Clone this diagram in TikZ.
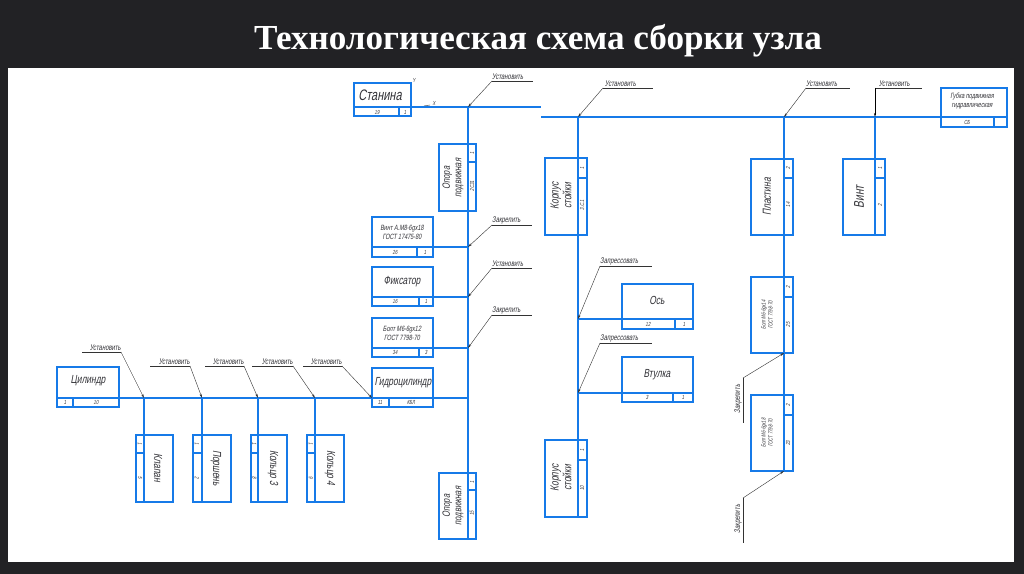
\documentclass[tikz,border=0pt]{standalone}
\usepackage{fontspec}
\setmainfont{Liberation Serif}
\newfontfamily\gost[FakeStretch=0.72,FakeSlant=0.18]{Liberation Sans}
\usetikzlibrary{arrows.meta}

\definecolor{slidebg}{RGB}{34,34,37}
\definecolor{cadblue}{RGB}{22,122,232}
\definecolor{txt}{RGB}{50,50,55}

\begin{document}
\begin{tikzpicture}
        [x=0.3mm, y=-0.3mm,
        part/.style={draw=cadblue, line width=0.9pt},
        link/.style={cadblue, line width=1pt},
        lead/.style={black!80, line width=0.35pt},
        ptr/.style={lead, -{Stealth[length=3.5pt,width=1.8pt]}},
        big/.style={font=\gost\fontsize{13}{14}\selectfont, text=txt, inner sep=0pt},
        pname/.style={font=\gost\fontsize{10}{11}\selectfont, text=txt, inner sep=0pt, align=center},
        small/.style={font=\gost\fontsize{6.5}{7.5}\selectfont, text=txt, inner sep=0pt, align=center},
        num/.style={font=\gost\fontsize{5}{5}\selectfont, text=txt, inner sep=0pt},
        op/.style={font=\gost\fontsize{7}{7}\selectfont, text=txt, inner sep=0pt, anchor=south west, yshift=0.8pt}]

        % slide and sheet
        \fill[slidebg] (0,0) rectangle (1024,574);
        \fill[white] (8,68) rectangle (1014,562);
        \node[font=\fontsize{30}{33}\selectfont\bfseries, text=white] (title) at (538,41) {Технологическая схема сборки узла};

        % base part
        \draw[part] (354,83) rectangle (411,116);
        \draw[part] (399,107) -- (399,116);
        \node[big] (stanina) at (380,95) {Станина};
        \node[num] (stn1) at (377,112) {19};
        \node[num] (stn2) at (405,112) {1};
        \node[num] (axy) at (414,80) {Y};
        \node[num] (axx) at (434,103) {X};
        \draw[lead] (424,106) -- (430,105);

        % main lines
        \coordinate (a0) at (354,107);
        \coordinate (a1) at (541,107);
        \coordinate (b0) at (541,117);
        \coordinate (b1) at (1007,117);
        \draw[link] (a0) -- (a1);
        \draw[link] (b0) -- (b1);
        \coordinate (ja) at (468,107);
        \coordinate (jb) at (578,117);
        \coordinate (jc) at (784,117);
        \coordinate (jd) at (875,117);
        \coordinate (ea) at (468,539);
        \coordinate (eb) at (578,517);
        \coordinate (ec) at (784,471);
        \coordinate (ed) at (875,235);
        \draw[link] (ja) -- (ea);
        \draw[link] (jb) -- (eb);
        \draw[link] (jc) -- (ec);
        \draw[link] (jd) -- (ed);

        % gubka
        \draw[part] (941,88) rectangle (1007,127);
        \draw[part] (994,117) -- (994,127);
        \node[small] (gubka) at (972,101) {Губка подвижная\\гидравлическая};
        \node[num] (gb1) at (967,122) {СБ};

        % column a
        \draw[part] (439,144) rectangle (476,211);
        \draw[part] (468,162) -- (476,162);
        \node[pname, rotate=90, font=\gost\fontsize{9}{10}\selectfont] (opora1) at (453,178) {Опора\\подвижная};
        \node[num, rotate=90] (op11) at (472,153) {1};
        \node[num, rotate=90] (op12) at (472,186) {2С31};
        \draw[part] (439,473) rectangle (476,539);
        \draw[part] (468,490) -- (476,490);
        \node[pname, rotate=90, font=\gost\fontsize{9}{10}\selectfont] (opora2) at (453,506) {Опора\\подвижная};
        \node[num, rotate=90] (op21) at (472,482) {1};
        \node[num, rotate=90] (op22) at (472,513) {15};

        \coordinate (ka) at (372,247);
        \coordinate (ja1) at (468,247);
        \draw[part] (372,217) rectangle (433,257);
        \draw[part] (417,247) -- (417,257);
        \draw[link] (ka) -- (ja1);
        \node[small] (vint1) at (402,232) {Винт А.М8-6gх18\\ГОСТ 17475-80};
        \node[num] (vi1) at (395,252) {26};
        \node[num] (vi2) at (425,252) {1};

        \coordinate (kb) at (372,297);
        \coordinate (ja2) at (468,297);
        \draw[part] (372,267) rectangle (433,306);
        \draw[part] (419,297) -- (419,306);
        \draw[link] (kb) -- (ja2);
        \node[pname] (fiks) at (402,282) {Фиксатор};
        \node[num] (fi1) at (395,301.5) {16};
        \node[num] (fi2) at (426,301.5) {1};

        \coordinate (kc) at (372,348);
        \coordinate (ja3) at (468,348);
        \draw[part] (372,318) rectangle (433,357);
        \draw[part] (419,348) -- (419,357);
        \draw[link] (kc) -- (ja3);
        \node[small] (bolt1) at (402,333) {Болт М6-6gх12\\ГОСТ 7798-70};
        \node[num] (bo1) at (395,352.5) {34};
        \node[num] (bo2) at (426,352.5) {3};

        % hydro cylinder and left line
        \coordinate (c0) at (57,398);
        \coordinate (c1) at (468,398);
        \draw[link] (c0) -- (c1);
        \draw[part] (372,368) rectangle (433,407);
        \draw[part] (389,398) -- (389,407);
        \node[pname] (gidro) at (403,383) {Гидроцилиндр};
        \node[num] (gi1) at (380,402.5) {11};
        \node[num] (gi2) at (411,402.5) {КБЛ};
        \draw[part] (57,367) rectangle (119,407);
        \draw[part] (73,398) -- (73,407);
        \node[pname] (cil) at (88,381) {Цилиндр};
        \node[num] (ci1) at (65,402.5) {1};
        \node[num] (ci2) at (96,402.5) {10};

        % parts under the left line
        \coordinate (jl1) at (144,398);
        \coordinate (jl2) at (202,398);
        \coordinate (jl3) at (258,398);
        \coordinate (jl4) at (315,398);
        \coordinate (jl5) at (372,398);
        \coordinate (el1) at (144,502);
        \coordinate (el2) at (202,502);
        \coordinate (el3) at (258,502);
        \coordinate (el4) at (315,502);
        \draw[link] (jl1) -- (el1);
        \draw[link] (jl2) -- (el2);
        \draw[link] (jl3) -- (el3);
        \draw[link] (jl4) -- (el4);

        \draw[part] (136,435) rectangle (173,502);
        \draw[part] (136,453) -- (144,453);
        \node[pname, rotate=-90] (klapan) at (158,468) {Клапан};
        \node[num, rotate=-90] (kl1) at (140,444) {1};
        \node[num, rotate=-90] (kl2) at (140,478) {5};

        \draw[part] (193,435) rectangle (231,502);
        \draw[part] (193,453) -- (202,453);
        \node[pname, rotate=-90] (porshen) at (216,468) {Поршень};
        \node[num, rotate=-90] (po1) at (197,444) {1};
        \node[num, rotate=-90] (po2) at (197,478) {2};

        \draw[part] (251,435) rectangle (287,502);
        \draw[part] (251,453) -- (258,453);
        \node[pname, rotate=-90] (kol3) at (273,468) {Кольцо 3};
        \node[num, rotate=-90] (k31) at (254.5,444) {1};
        \node[num, rotate=-90] (k32) at (254.5,478) {8};

        \draw[part] (307,435) rectangle (344,502);
        \draw[part] (307,453) -- (315,453);
        \node[pname, rotate=-90] (kol4) at (330,468) {Кольцо 4};
        \node[num, rotate=-90] (k41) at (311,444) {1};
        \node[num, rotate=-90] (k42) at (311,478) {9};

        % column b
        \draw[part] (545,158) rectangle (587,235);
        \draw[part] (578,178) -- (587,178);
        \node[pname, rotate=90] (korp1) at (561,196) {Корпус\\стойки};
        \node[num, rotate=90] (kp11) at (582,168) {1};
        \node[num, rotate=90] (kp12) at (582,205) {3.С.1};
        \draw[part] (545,440) rectangle (587,517);
        \draw[part] (578,460) -- (587,460);
        \node[pname, rotate=90] (korp2) at (561,478) {Корпус\\стойки};
        \node[num, rotate=90] (kp21) at (582,450) {1};
        \node[num, rotate=90] (kp22) at (582,488) {10};

        \coordinate (jb1) at (578,319);
        \coordinate (kd) at (693,319);
        \draw[part] (622,284) rectangle (693,329);
        \draw[part] (675,319) -- (675,329);
        \draw[link] (jb1) -- (kd);
        \node[pname] (os) at (657,300) {Ось};
        \node[num] (os1) at (648,324) {12};
        \node[num] (os2) at (684,324) {1};

        \coordinate (jb2) at (578,393);
        \coordinate (ke) at (693,393);
        \draw[part] (622,357) rectangle (693,402);
        \draw[part] (673,393) -- (673,402);
        \draw[link] (jb2) -- (ke);
        \node[pname] (vtulka) at (657,375) {Втулка};
        \node[num] (vt1) at (647,397.5) {3};
        \node[num] (vt2) at (683,397.5) {1};

        % column c
        \draw[part] (751,159) rectangle (793,235);
        \draw[part] (784,178) -- (793,178);
        \node[pname, rotate=90] (plast) at (767,197) {Пластина};
        \node[num, rotate=90] (pl1) at (788,168) {2};
        \node[num, rotate=90] (pl2) at (788,205) {14};
        \draw[part] (751,277) rectangle (793,353);
        \draw[part] (784,297) -- (793,297);
        \node[small, rotate=90, font=\gost\fontsize{5}{6}\selectfont] (bolt2) at (767,315) {Болт М6-6gх14\\ГОСТ 7798-70};
        \node[num, rotate=90] (b21) at (788,287) {2};
        \node[num, rotate=90] (b22) at (788,325) {25};
        \draw[part] (751,395) rectangle (793,471);
        \draw[part] (784,415) -- (793,415);
        \node[small, rotate=90, font=\gost\fontsize{5}{6}\selectfont] (bolt3) at (767,433) {Болт М6-6gх18\\ГОСТ 7798-70};
        \node[num, rotate=90] (b31) at (788,405) {2};
        \node[num, rotate=90] (b32) at (788,443) {23};

        % column d
        \draw[part] (843,159) rectangle (885,235);
        \draw[part] (875,178) -- (885,178);
        \node[pname, rotate=90, font=\gost\fontsize{12}{13}\selectfont] (vint2) at (859,197) {Винт};
        \node[num, rotate=90] (vn1) at (880,168) {1};
        \node[num, rotate=90] (vn2) at (880,205) {2};

        % operations, top
        \coordinate (u1) at (492,81);
        \coordinate (u2) at (603,88);
        \coordinate (u3) at (806,88);
        \coordinate (u4) at (875,88);
        \draw[lead] (u1) -- ++(41,0); \node[op] (t1) at (u1) {Установить};
        \draw[lead] (u2) -- ++(50,0); \node[op, xshift=1.5pt] (t2) at (u2) {Установить};
        \draw[lead] (u3) -- ++(44,0); \node[op] (t3) at (u3) {Установить};
        \draw[lead] (u4) -- ++(47,0); \node[op, xshift=3pt] (t4) at (u4) {Установить};
        \draw[ptr] (u1) -- (ja);
        \draw[ptr] (u2) -- (jb);
        \draw[ptr] (u3) -- (jc);
        \draw[ptr, black, line width=0.7pt] (u4) -- (jd);

        % operations, column a
        \coordinate (u5) at (492,225);
        \coordinate (u6) at (492,268);
        \coordinate (u7) at (492,315);
        \draw[lead] (u5) -- ++(40,0); \node[op] (t5) at (u5) {Закрепить};
        \draw[lead] (u6) -- ++(40,0); \node[op] (t6) at (u6) {Установить};
        \draw[lead] (u7) -- ++(40,0); \node[op] (t7) at (u7) {Закрепить};
        \draw[ptr] (u5) -- (ja1);
        \draw[ptr] (u6) -- (ja2);
        \draw[ptr] (u7) -- (ja3);

        % operations, column b
        \coordinate (u8) at (600,266);
        \coordinate (u9) at (600,343);
        \draw[lead] (u8) -- ++(52,0); \node[op] (t8) at (u8) {Запрессовать};
        \draw[lead] (u9) -- ++(52,0); \node[op] (t9) at (u9) {Запрессовать};
        \draw[ptr] (u8) -- (jb1);
        \draw[ptr] (u9) -- (jb2);

        % operations, column c
        \coordinate (u10) at (743,378);
        \coordinate (u11) at (743,498);
        \coordinate (jc1) at (784,353);
        \coordinate (jc2) at (784,471);
        \draw[lead] (u10) -- ++(0,45);
        \draw[lead] (u11) -- ++(0,45);
        \node[op, anchor=south, rotate=90, yshift=0pt] (t10) at (742,400) {Закрепить};
        \node[op, anchor=south, rotate=90, yshift=0pt] (t11) at (742,520) {Закрепить};
        \draw[ptr] (u10) -- (jc1);
        \draw[ptr] (u11) -- (jc2);

        % operations, left line
        \coordinate (v1) at (121,352);
        \coordinate (v2) at (190,366);
        \coordinate (v3) at (244,366);
        \coordinate (v4) at (293,366);
        \coordinate (v5) at (342,366);
        \draw[lead] (v1) -- ++(-39,0); \node[op, anchor=south east] (s1) at (v1) {Установить};
        \draw[lead] (v2) -- ++(-40,0); \node[op, anchor=south east] (s2) at (v2) {Установить};
        \draw[lead] (v3) -- ++(-39,0); \node[op, anchor=south east] (s3) at (v3) {Установить};
        \draw[lead] (v4) -- ++(-41,0); \node[op, anchor=south east] (s4) at (v4) {Установить};
        \draw[lead] (v5) -- ++(-39,0); \node[op, anchor=south east] (s5) at (v5) {Установить};
        \draw[ptr] (v1) -- (jl1);
        \draw[ptr] (v2) -- (jl2);
        \draw[ptr] (v3) -- (jl3);
        \draw[ptr] (v4) -- (jl4);
        \draw[ptr] (v5) -- (jl5);

        \end{tikzpicture}
\end{document}
